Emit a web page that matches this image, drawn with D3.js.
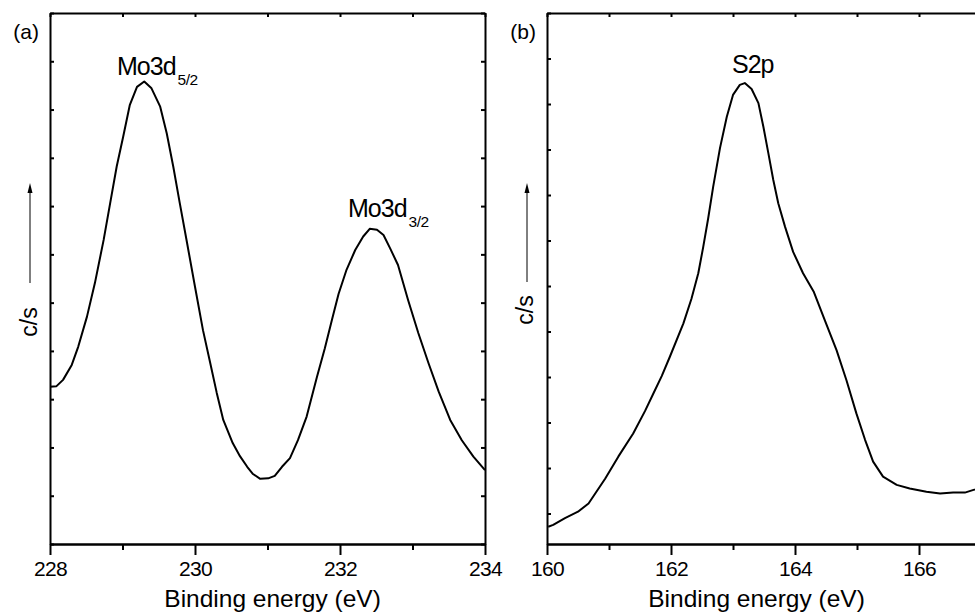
<!DOCTYPE html>
<html>
<head>
<meta charset="utf-8">
<script src="https://cdn.jsdelivr.net/npm/d3@7"></script>
<style>
  body { margin: 0; background: #fff; }
  svg { display: block; font-family: "Liberation Sans", Arial, sans-serif; }
</style>
</head>
<body>
<svg id="chart" width="975" height="615"></svg>
<script>
// (a) Mo 3d region, binding energy (eV) vs intensity (arb. units)
var moEnergy = [228.00, 228.09, 228.18, 228.30, 228.39, 228.51, 228.62, 228.74, 228.83, 228.92,
    229.01, 229.10, 229.20, 229.30, 229.40, 229.52, 229.61, 229.70, 229.79, 229.89,
    230.00, 230.11, 230.21, 230.30, 230.39, 230.52, 230.62, 230.72, 230.80, 230.90,
    231.01, 231.10, 231.20, 231.31, 231.42, 231.54, 231.68, 231.79, 231.89, 231.98,
    232.09, 232.21, 232.32, 232.41, 232.51, 232.60, 232.69, 232.80, 232.94, 233.08,
    233.22, 233.36, 233.52, 233.68, 233.84, 234.00];
var moCounts = [3.26, 3.27, 3.40, 3.71, 4.09, 4.71, 5.41, 6.30, 7.06, 7.82,
    8.44, 9.09, 9.47, 9.58, 9.44, 9.06, 8.51, 7.82, 7.06, 6.24,
    5.33, 4.43, 3.75, 3.13, 2.57, 2.09, 1.82, 1.60, 1.45, 1.35,
    1.36, 1.41, 1.60, 1.78, 2.15, 2.64, 3.45, 4.05, 4.65, 5.18,
    5.68, 6.09, 6.37, 6.53, 6.51, 6.40, 6.13, 5.78, 5.05, 4.37,
    3.75, 3.16, 2.57, 2.15, 1.81, 1.53];

// (b) S 2p region
var sEnergy = [160.02, 160.10, 160.29, 160.50, 160.67, 160.94, 161.15, 161.39, 161.58, 161.71,
    161.85, 161.98, 162.20, 162.33, 162.44, 162.52, 162.60, 162.68, 162.79, 162.90,
    163.00, 163.11, 163.19, 163.30, 163.41, 163.49, 163.57, 163.65, 163.73, 163.84,
    163.97, 164.13, 164.30, 164.48, 164.67, 164.83, 164.99, 165.13, 165.26, 165.42,
    165.64, 165.85, 166.12, 166.34, 166.55, 166.74, 166.88, 167.06];
var sCounts = [1.71, 1.75, 1.90, 2.04, 2.22, 2.77, 3.25, 3.76, 4.25, 4.62,
    5.02, 5.44, 6.18, 6.72, 7.28, 7.86, 8.49, 9.18, 10.03, 10.72,
    11.20, 11.42, 11.46, 11.33, 11.02, 10.50, 9.92, 9.33, 8.82, 8.30,
    7.75, 7.28, 6.88, 6.25, 5.59, 4.93, 4.20, 3.62, 3.14, 2.81,
    2.63, 2.55, 2.48, 2.44, 2.46, 2.46, 2.52, 2.58];

var xMajorA = [228, 230, 232, 234];
var xMinorA = [229, 231, 233];
var xMajorB = [160, 162, 164, 166];
var xMinorB = [161, 163, 165, 167];
var yTicksA = d3.range(0, 12);
var yTicksB = d3.range(2, 14);

var svg = d3.select('#chart');

function drawPanel(p) {
    var x = d3.scaleLinear().domain(p.xDomain).range(p.xRange),
        y = d3.scaleLinear().domain(p.yDomain).range([544, 13]),
        g = svg.append('g'),
        allX = p.major.concat(p.minor).sort(d3.ascending);

    // bottom axis: labelled majors, outward
    g.append('g')
        .attr('transform', 'translate(0,544)')
        .call(d3.axisBottom(x).tickValues(p.major).tickSize(11).tickSizeOuter(0).tickPadding(6)
            .tickFormat(d3.format('d')));
    g.append('g')
        .attr('transform', 'translate(0,544)')
        .call(d3.axisBottom(x).tickValues(p.minor).tickSize(6).tickSizeOuter(0).tickFormat(''));
    // top axis: inward ticks
    g.append('g')
        .attr('transform', 'translate(0,13)')
        .call(d3.axisTop(x).tickValues(allX).tickSize(-4).tickSizeOuter(0).tickFormat(''));
    // left / right axes: inward ticks, no labels
    g.append('g')
        .attr('transform', 'translate(' + p.xRange[0] + ',0)')
        .call(d3.axisLeft(y).tickValues(p.yTicks).tickSize(-4).tickSizeOuter(0).tickFormat(''));
    g.append('g')
        .attr('transform', 'translate(' + p.xRange[1] + ',0)')
        .call(d3.axisRight(y).tickValues(p.yTicks).tickSize(-4).tickSizeOuter(0).tickFormat(''));

    g.selectAll('.domain, .tick line')
        .attr('stroke', '#000')
        .attr('stroke-width', 2);
    g.selectAll('.tick text')
        .attr('fill', '#000')
        .style('font-family', '"Liberation Sans", Arial, sans-serif')
        .style('font-size', '21px')
        .style('letter-spacing', '-0.6px');

    var line = d3.line()
        .x(function (d, i) { return x(p.energy[i]); })
        .y(function (d) { return y(d); });

    g.append('path')
        .datum(p.counts)
        .attr('fill', 'none')
        .attr('stroke', '#000')
        .attr('stroke-width', 2)
        .attr('stroke-linejoin', 'round')
        .attr('d', line);

    // axis title
    g.append('text')
        .attr('x', x(p.titleAt))
        .attr('y', 607)
        .attr('text-anchor', 'middle')
        .style('font-size', '24.5px')
        .text('Binding energy (eV)');

    // panel letter
    g.append('text')
        .attr('x', p.xRange[0] - 11)
        .attr('y', 39)
        .attr('text-anchor', 'end')
        .style('font-size', '21px')
        .text(p.letter);

    // y title with arrow
    g.append('text')
        .attr('transform', 'translate(' + (p.xRange[0] - p.ylabOff) + ',' + p.ylabY + ') rotate(-90)')
        .attr('text-anchor', 'middle')
        .style('font-size', '23px')
        .text('c/s');
    g.append('line')
        .attr('x1', p.xRange[0] - p.arrowOff).attr('x2', p.xRange[0] - p.arrowOff)
        .attr('y1', p.arrowY).attr('y2', 192)
        .attr('stroke', '#000')
        .attr('stroke-width', 1);
    g.append('path')
        .attr('d', 'M' + (p.xRange[0] - p.arrowOff) + ',183 l-2.5,10 l5,0 z')
        .attr('fill', '#000');

    return g;
}

var ga = drawPanel({
    energy: moEnergy, counts: moCounts,
    xDomain: [228, 234], xRange: [50, 485],
    yDomain: [0, 11], yTicks: yTicksA,
    major: xMajorA, minor: xMinorA,
    titleAt: 231.07, letter: '(a)',
    ylabOff: 13, ylabY: 322, arrowOff: 20, arrowY: 283
});

var gb = drawPanel({
    energy: sEnergy, counts: sCounts,
    xDomain: [160, 167.2], xRange: [547, 547 + 62 * 7.2],
    yDomain: [1.33, 13], yTicks: yTicksB,
    major: xMajorB, minor: xMinorB,
    titleAt: 163.38, letter: '(b)',
    ylabOff: 14, ylabY: 310, arrowOff: 20, arrowY: 282
});

// peak labels
function peakLabel(g, px, py, main, sub) {
    var t = g.append('text')
        .attr('x', px)
        .attr('y', py)
        .style('font-size', '25px')
        .style('letter-spacing', '-1px')
        .text(main);
    if (sub) {
        t.append('tspan')
            .attr('dy', 10)
            .attr('dx', 2)
            .style('font-size', '15.5px')
            .style('letter-spacing', '-0.5px')
            .text(sub);
    }
}
peakLabel(ga, 117, 75, 'Mo3d', '5/2');
peakLabel(ga, 348, 217, 'Mo3d', '3/2');
peakLabel(gb, 732, 73, 'S2p', null);
</script>
</body>
</html>
